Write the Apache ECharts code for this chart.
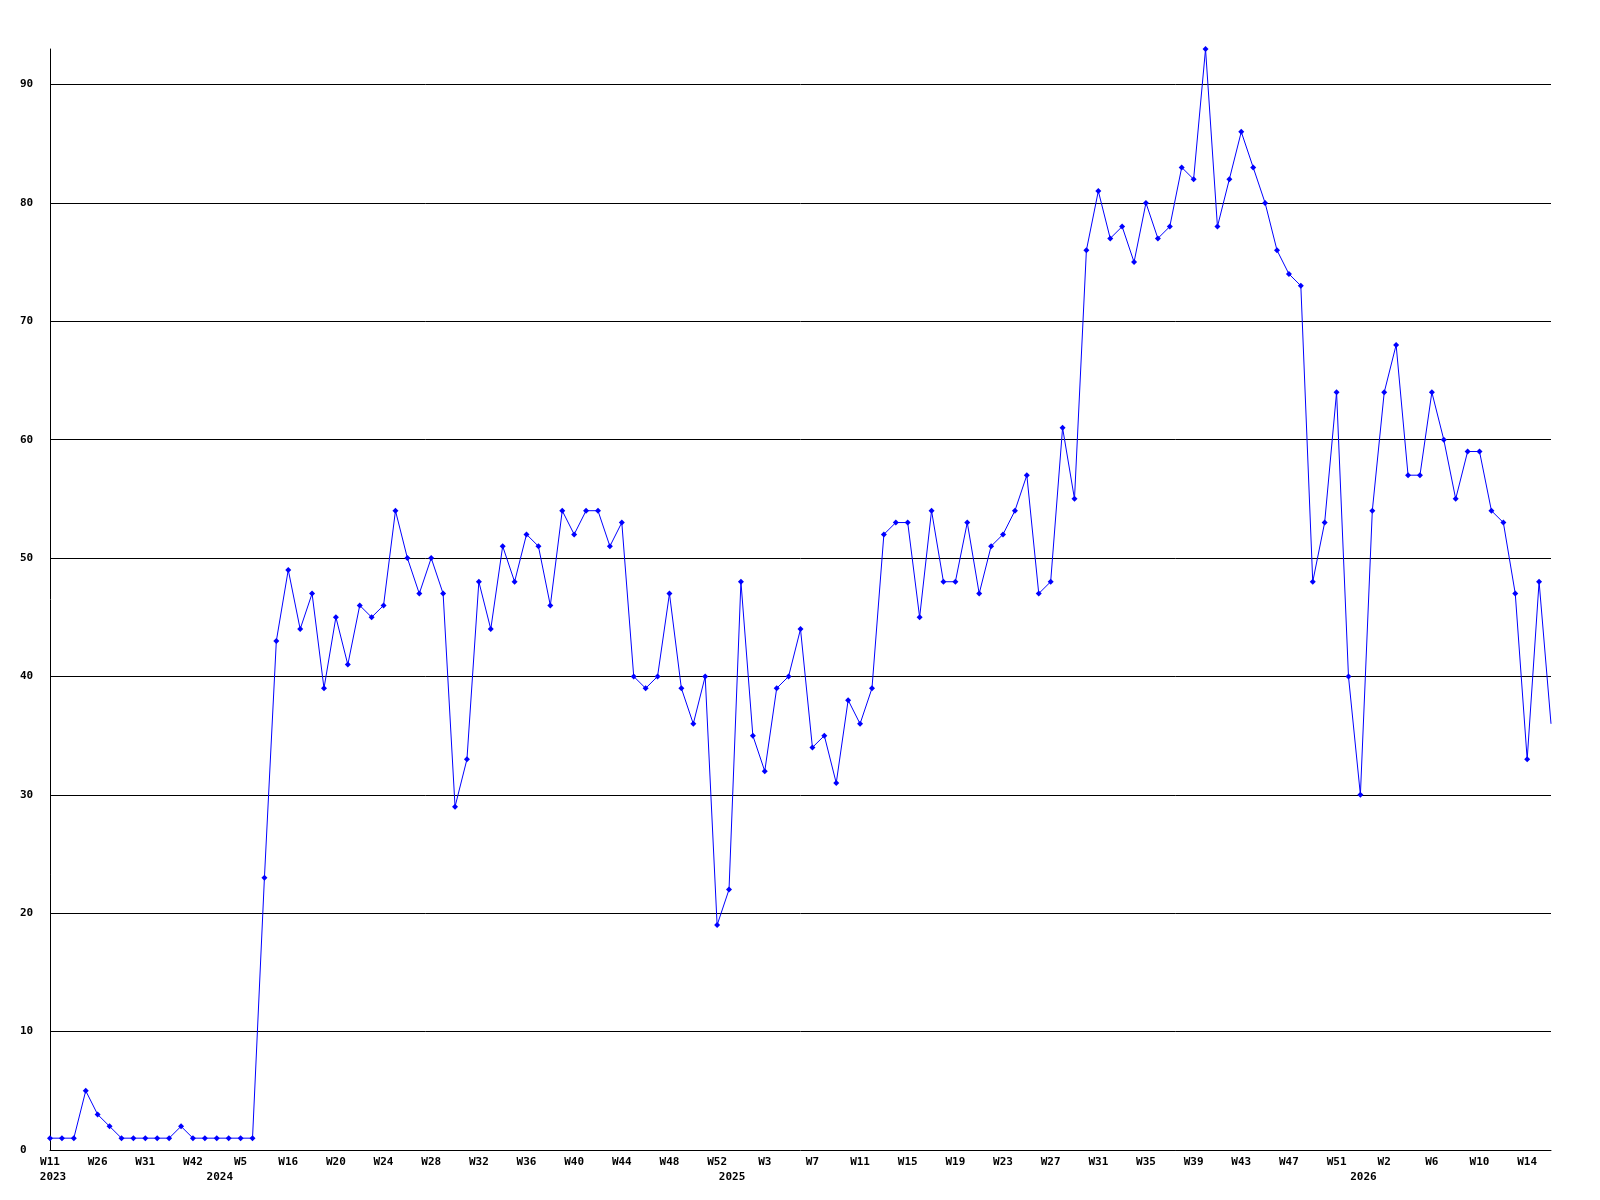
<!DOCTYPE html>
<html>
<head>
<meta charset="utf-8">
<script src="https://cdn.jsdelivr.net/npm/echarts@6/dist/echarts.min.js"></script>
<style>
html,body{margin:0;padding:0;background:#fff;}
#chart{width:1600px;height:1200px;}
</style>
</head>
<body>
<div id="chart"></div>
<script>
// Week categories (year, week label)
const years = [
  2023,2023,2023,2023,2023,2023,2023,2023,2023,2023,2023,2023,2023,2023,
  2024,2024,2024,2024,2024,2024,2024,2024,2024,2024,2024,2024,2024,2024,2024,2024,
  2024,2024,2024,2024,2024,2024,2024,2024,2024,2024,2024,2024,2024,2024,2024,2024,
  2024,2024,2024,2024,2024,2024,2024,2024,2024,2024,2024,
  2025,2025,2025,2025,2025,2025,2025,2025,2025,2025,2025,2025,2025,2025,2025,2025,
  2025,2025,2025,2025,2025,2025,2025,2025,2025,2025,2025,2025,2025,2025,2025,2025,
  2025,2025,2025,2025,2025,2025,2025,2025,2025,2025,2025,2025,2025,2025,2025,2025,
  2025,2025,2025,2025,2025,
  2026,2026,2026,2026,2026,2026,2026,2026,2026,2026,2026,2026,2026,2026,2026,2026,2026
];
const weeks = [
  'W11','W14','W18','W22','W26','W27','W28','W30','W31','W33','W36','W39','W42','W47',
  'W1','W3','W5','W8','W11','W14','W16','W17','W18','W19','W20','W21','W22','W23','W24','W25',
  'W26','W27','W28','W29','W30','W31','W32','W33','W34','W35','W36','W37','W38','W39','W40','W41',
  'W42','W43','W44','W45','W46','W47','W48','W49','W50','W51','W52',
  'W0','W1','W2','W3','W4','W5','W6','W7','W8','W9','W10','W11','W12','W13','W14','W15',
  'W16','W17','W18','W19','W20','W21','W22','W23','W24','W25','W26','W27','W28','W29','W30','W31',
  'W32','W33','W34','W35','W36','W37','W38','W39','W40','W41','W42','W43','W44','W45','W46','W47',
  'W48','W49','W50','W51','W52',
  'W0','W1','W2','W3','W4','W5','W6','W7','W8','W9','W10','W11','W12','W13','W14','W15','W16'
];
const values = [
  1,1,1,5,3,2,1,1,1,1,1,2,1,1,1,1,1,1,23,43,
  49,44,47,39,45,41,46,45,46,54,50,47,50,47,29,33,48,44,51,48,
  52,51,46,54,52,54,54,51,53,40,39,40,47,39,36,40,19,22,48,35,
  32,39,40,44,34,35,31,38,36,39,52,53,53,45,54,48,48,53,47,51,
  52,54,57,47,48,61,55,76,81,77,78,75,80,77,78,83,82,93,78,82,
  86,83,80,76,74,73,48,53,64,40,30,54,64,68,57,57,64,60,55,59,
  59,54,53,47,33,48,36
];
const yTickStep = 10;

const categories = weeks.map((w, i) => years[i] + '-' + w);
const font = {fontFamily: '"DejaVu Sans Mono", monospace', fontWeight: 'bold', fontSize: 11, color: '#000'};

const seriesData = values.map((v, i) => i === values.length - 1 ? {value: v, symbol: 'none'} : v);

const chart = echarts.init(document.getElementById('chart'), null, {renderer: 'canvas'});
chart.setOption({
  animation: false,
  backgroundColor: '#ffffff',
  grid: {left: 50, right: 49, top: 49, bottom: 50, containLabel: false},
  xAxis: [
    {
      type: 'category', data: categories, boundaryGap: false, position: 'bottom',
      axisLine: {show: true, lineStyle: {color: '#000', width: 1}},
      axisTick: {show: false},
      splitLine: {show: false},
      axisLabel: Object.assign({}, font, {
        interval: 3, margin: 7, hideOverlap: false,
        formatter: (v) => v.split('-')[1]
      })
    },
    {
      type: 'category', data: categories, boundaryGap: false, position: 'bottom', offset: 15,
      axisLine: {show: false}, axisTick: {show: false}, splitLine: {show: false},
      axisLabel: Object.assign({}, font, {
        margin: 7, hideOverlap: false, padding: [0, 0, 0, 6],
        interval: (i) => i === 0 || years[i] !== years[i - 1],
        formatter: (v) => v.split('-')[0]
      })
    }
  ],
  yAxis: {
    type: 'value', min: 0, max: 'dataMax', interval: yTickStep,
    axisLine: {show: true, lineStyle: {color: '#000', width: 1}},
    axisTick: {show: false},
    splitLine: {show: true, showMinLine: false, showMaxLine: false, lineStyle: {color: '#000', width: 1}},
    axisLabel: Object.assign({}, font, {align: 'left', margin: 30, showMaxLabel: false})
  },
  series: [{
    type: 'line', data: seriesData, xAxisIndex: 0,
    lineStyle: {color: '#0000ff', width: 1},
    itemStyle: {color: '#0000ff'},
    symbol: 'diamond', symbolSize: 6, showAllSymbol: true,
    clip: true
  }]
});
</script>
</body>
</html>
